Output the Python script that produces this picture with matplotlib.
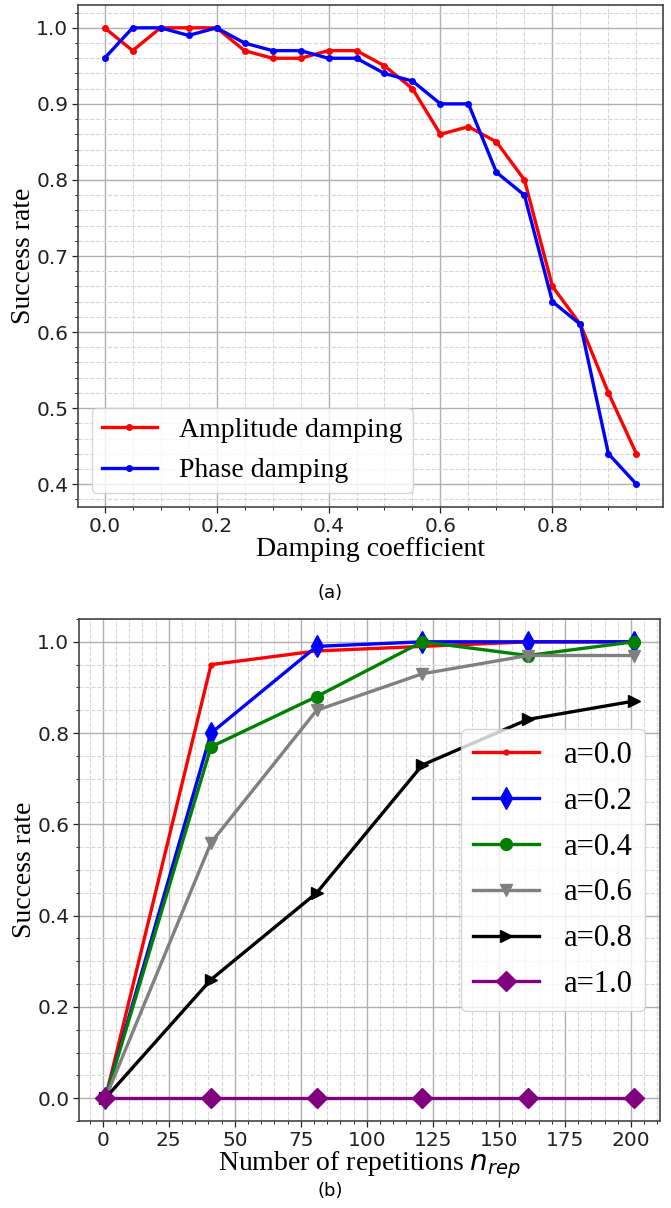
import matplotlib
matplotlib.use("Agg")
import matplotlib.pyplot as plt
from matplotlib.ticker import AutoMinorLocator, MultipleLocator

# ---- data (a) ----
damping = [0.00, 0.05, 0.10, 0.15, 0.20, 0.25, 0.30, 0.35, 0.40, 0.45,
           0.50, 0.55, 0.60, 0.65, 0.70, 0.75, 0.80, 0.85, 0.90, 0.95]
amplitude = [1.00, 0.97, 1.00, 1.00, 1.00, 0.97, 0.96, 0.96, 0.97, 0.97,
             0.95, 0.92, 0.86, 0.87, 0.85, 0.80, 0.66, 0.61, 0.52, 0.44]
phase = [0.96, 1.00, 1.00, 0.99, 1.00, 0.98, 0.97, 0.97, 0.96, 0.96,
         0.94, 0.93, 0.90, 0.90, 0.81, 0.78, 0.64, 0.61, 0.44, 0.40]

# ---- data (b) ----
n_rep = [1, 41, 81, 121, 161, 201]
a00 = [0.0, 0.95, 0.98, 0.99, 1.00, 1.00]
a02 = [0.0, 0.80, 0.99, 1.00, 1.00, 1.00]
a04 = [0.0, 0.77, 0.88, 1.00, 0.97, 1.00]
a06 = [0.0, 0.56, 0.85, 0.93, 0.97, 0.97]
a08 = [0.0, 0.26, 0.45, 0.73, 0.83, 0.87]
a10 = [0.0, 0.0, 0.0, 0.0, 0.0, 0.0]
b_labels = ["a=0.0", "a=0.2", "a=0.4", "a=0.6", "a=0.8", "a=1.0"]

SERIF = "Liberation Serif"

fig = plt.figure(figsize=(6.71, 12.08), dpi=100)

def style(ax):
    ax.grid(which="major", color="#b0b0b0", linestyle="-", linewidth=1.0)
    ax.grid(which="minor", color="#d6d6d6", linestyle="--", linewidth=0.8)
    ax.set_axisbelow(True)
    ax.tick_params(which="major", labelsize=14.5, length=4, width=0.9, colors="#222222", pad=3)
    ax.tick_params(which="minor", length=2, width=0.7, colors="#222222")
    for sp in ax.spines.values():
        sp.set_color("#444444")
        sp.set_linewidth(1.2)

# ---- (a) ----
ax1 = fig.add_axes([78/671, 1-507/1208, 585/671, 502/1208])
ax1.plot(damping, amplitude, color="red", marker="o", markersize=4, linewidth=2.4, label="Amplitude damping")
ax1.plot(damping, phase, color="blue", marker="o", markersize=4, linewidth=2.4, label="Phase damping")
ax1.xaxis.set_major_locator(MultipleLocator(0.2))
ax1.xaxis.set_minor_locator(AutoMinorLocator(4))
ax1.yaxis.set_major_locator(MultipleLocator(0.1))
ax1.yaxis.set_minor_locator(AutoMinorLocator(5))
style(ax1)
ax1.set_xlabel("Damping coefficient", fontsize=20, family=SERIF, labelpad=1)
ax1.set_ylabel("Success rate", fontsize=20, family=SERIF, labelpad=0)
ax1.legend(loc="lower left", prop={"family": SERIF, "size": 20}, labelspacing=0.55,
           handlelength=2.0, borderpad=0.35)

# ---- (b) ----
ax2 = fig.add_axes([79/671, 1-1121/1208, 581/671, 502/1208])
series = [a00, a02, a04, a06, a08, a10]
colors = ["red", "blue", "green", "grey", "black", "purple"]
markers = [".", "d", "o", "v", ">", "D"]
msizes = [7, 11, 8.5, 9, 9, 10]
for ys, c, m, ms, lab in zip(series, colors, markers, msizes, b_labels):
    ax2.plot(n_rep, ys, color=c, marker=m, markersize=ms, linewidth=2.4, label=lab)
ax2.xaxis.set_major_locator(MultipleLocator(25))
ax2.xaxis.set_minor_locator(AutoMinorLocator(5))
ax2.yaxis.set_major_locator(MultipleLocator(0.2))
ax2.yaxis.set_minor_locator(AutoMinorLocator(4))
style(ax2)
ax2.set_xlabel("Number of repetitions $n_{rep}$", fontsize=20, family=SERIF, labelpad=0)
ax2.set_ylabel("Success rate", fontsize=20, family=SERIF, labelpad=0)
ax2.legend(loc="center right", prop={"family": SERIF, "size": 22}, labelspacing=0.55,
           handlelength=2.15, borderpad=0.4)

fig.text(330/671, 1-593/1208, "(a)", ha="center", va="center", fontsize=13)
fig.text(330/671, 1-1191/1208, "(b)", ha="center", va="center", fontsize=13)

fig.savefig("out.png", dpi=100)
